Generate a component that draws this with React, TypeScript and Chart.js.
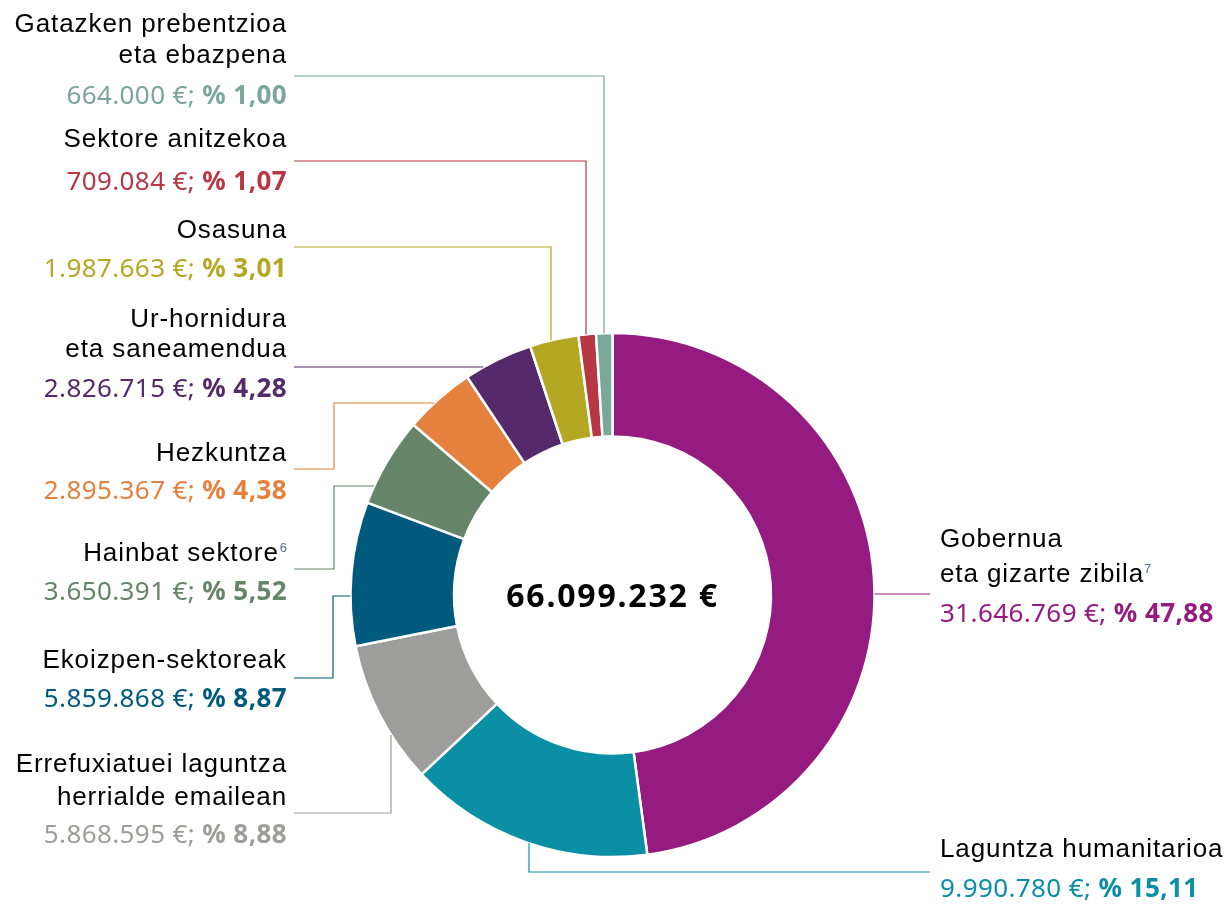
import React, { useEffect, useRef } from "react";
import { Chart, registerables } from "chart.js";

Chart.register(...registerables);

// ---- data ----
const CATEGORIES = [
  "Gobernua eta gizarte zibila",
  "Laguntza humanitarioa",
  "Errefuxiatuei laguntza herrialde emailean",
  "Ekoizpen-sektoreak",
  "Hainbat sektore",
  "Hezkuntza",
  "Ur-hornidura eta saneamendua",
  "Osasuna",
  "Sektore anitzekoa",
  "Gatazken prebentzioa eta ebazpena",
];
const NAME_LINES = [
  ["Gobernua", "eta gizarte zibila"],
  ["Laguntza humanitarioa"],
  ["Errefuxiatuei laguntza", "herrialde emailean"],
  ["Ekoizpen-sektoreak"],
  ["Hainbat sektore"],
  ["Hezkuntza"],
  ["Ur-hornidura", "eta saneamendua"],
  ["Osasuna"],
  ["Sektore anitzekoa"],
  ["Gatazken prebentzioa", "eta ebazpena"],
];
const FOOTNOTES = ["7", "", "", "", "6", "", "", "", "", ""];
const AMOUNTS = [31646769, 9990780, 5868595, 5859868, 3650391, 2895367, 2826715, 1987663, 709084, 664000];
const COLORS = [
  "#951b80",
  "#0b8fa5",
  "#9d9d9c",
  "#005a7d",
  "#668468",
  "#e5803e",
  "#552a6b",
  "#b4a822",
  "#b73744",
  "#7ba69a",
];

// ---- label layout (annotation positions) ----
type Lead = { y: number; type: "h" | "v" | "hv"; ex?: number; ty?: number };
type LabelLayout = { side: "left" | "right"; lines: number[]; value: number; lead: Lead };
const LEFT_TEXT_X = 287;
const RIGHT_TEXT_X = 940;
const LEFT_LINE_X = 294;
const RIGHT_LINE_X = 930;
const LABEL_LAYOUT: LabelLayout[] = [
  { side: "right", lines: [547, 582], value: 622, lead: { y: 594, type: "h" } },
  { side: "right", lines: [857], value: 897, lead: { y: 872, type: "v", ex: 529 } },
  { side: "left", lines: [772, 805], value: 843, lead: { y: 813, type: "v", ex: 391 } },
  { side: "left", lines: [668], value: 707, lead: { y: 678, type: "hv", ex: 333, ty: 596 } },
  { side: "left", lines: [561], value: 600, lead: { y: 569, type: "hv", ex: 334, ty: 486 } },
  { side: "left", lines: [461], value: 499, lead: { y: 469, type: "hv", ex: 334, ty: 403 } },
  { side: "left", lines: [327, 357], value: 397, lead: { y: 367, type: "h" } },
  { side: "left", lines: [238], value: 277, lead: { y: 247, type: "v", ex: 551 } },
  { side: "left", lines: [147], value: 190, lead: { y: 161, type: "v", ex: 586 } },
  { side: "left", lines: [32, 63], value: 104, lead: { y: 76, type: "v", ex: 604 } },
];

const NAME_FONT = '26px "Liberation Sans", Arial, sans-serif';
const VALUE_FONT = '26px "Noto Sans", Lato, sans-serif';
const VALUE_BOLD = 'bold 26px "Noto Sans", Lato, sans-serif';
const SUP_FONT = '13px "Liberation Sans", Arial, sans-serif';
const CENTER_FONT = 'bold 32px "Noto Sans", Lato, sans-serif';

function fmtThousands(n: number): string {
  return String(Math.round(n)).replace(/\B(?=(\d{3})+(?!\d))/g, ".");
}

const TOTAL = AMOUNTS.reduce((a, b) => a + b, 0);

const labelPlugin = {
  id: "sideLabels",
  afterDraw(chart: any) {
    const ctx: CanvasRenderingContext2D = chart.ctx;
    const meta = chart.getDatasetMeta(0);
    const first = meta.data[0] as any;
    const cx = first.x;
    const cy = first.y;
    const R = first.outerRadius;
    const xOnCircle = (y: number, side: "left" | "right") => {
      const d = Math.sqrt(Math.max(R * R - (y - cy) * (y - cy), 0));
      return side === "left" ? cx - d : cx + d;
    };
    const yOnCircle = (x: number, upper: boolean) => {
      const d = Math.sqrt(Math.max(R * R - (x - cx) * (x - cx), 0));
      return upper ? cy - d : cy + d;
    };

    ctx.save();
    // leader lines
    LABEL_LAYOUT.forEach((lay, i) => {
      const col = COLORS[i];
      const { lead, side } = lay;
      const x0 = side === "left" ? LEFT_LINE_X : RIGHT_LINE_X;
      ctx.beginPath();
      ctx.strokeStyle = col;
      ctx.lineWidth = 1.2;
      if (lead.type === "h") {
        ctx.moveTo(x0, lead.y);
        ctx.lineTo(xOnCircle(lead.y, side), lead.y);
      } else if (lead.type === "v") {
        const ex = lead.ex as number;
        ctx.moveTo(x0, lead.y);
        ctx.lineTo(ex, lead.y);
        ctx.lineTo(ex, yOnCircle(ex, lead.y < cy));
      } else {
        const ex = lead.ex as number;
        const ty = lead.ty as number;
        ctx.moveTo(x0, lead.y);
        ctx.lineTo(ex, lead.y);
        ctx.lineTo(ex, ty);
        ctx.lineTo(xOnCircle(ty, side), ty);
      }
      ctx.stroke();
    });

    // labels
    ctx.textBaseline = "alphabetic";
    LABEL_LAYOUT.forEach((lay, i) => {
      const col = COLORS[i];
      const lines = NAME_LINES[i];
      const fn = FOOTNOTES[i];
      const left = lay.side === "left";
      const tx = left ? LEFT_TEXT_X : RIGHT_TEXT_X;
      lines.forEach((line, li) => {
        const isLast = li === lines.length - 1;
        ctx.font = SUP_FONT;
        (ctx as any).letterSpacing = "0px";
        const supW = isLast && fn ? ctx.measureText(fn).width + 1 : 0;
        ctx.font = NAME_FONT;
        (ctx as any).letterSpacing = "0.9px";
        ctx.fillStyle = "#000000";
        const nameW = ctx.measureText(line).width;
        if (left) {
          ctx.textAlign = "right";
          ctx.fillText(line, tx - supW, lay.lines[li]);
        } else {
          ctx.textAlign = "left";
          ctx.fillText(line, tx, lay.lines[li]);
        }
        if (isLast && fn) {
          ctx.font = SUP_FONT;
          (ctx as any).letterSpacing = "0px";
          ctx.fillStyle = "#4f73a0";
          ctx.textAlign = "left";
          const sx = left ? tx - supW + 1 : tx + nameW;
          ctx.fillText(fn, sx, lay.lines[li] - 9);
        }
      });
      (ctx as any).letterSpacing = "0.4px";
      const amt = fmtThousands(AMOUNTS[i]) + " €; ";
      const pct = "% " + ((AMOUNTS[i] / TOTAL) * 100).toFixed(2).replace(".", ",");
      ctx.fillStyle = col;
      if (left) {
        ctx.textAlign = "right";
        ctx.font = VALUE_BOLD;
        const bw = ctx.measureText(pct).width;
        ctx.fillText(pct, tx, lay.value);
        ctx.font = VALUE_FONT;
        ctx.fillText(amt, tx - bw, lay.value);
      } else {
        ctx.textAlign = "left";
        ctx.font = VALUE_FONT;
        const aw = ctx.measureText(amt).width;
        ctx.fillText(amt, tx, lay.value);
        ctx.font = VALUE_BOLD;
        ctx.fillText(pct, tx + aw, lay.value);
      }
    });

    // center total
    ctx.font = CENTER_FONT;
    (ctx as any).letterSpacing = "1.8px";
    ctx.fillStyle = "#000000";
    ctx.textAlign = "center";
    ctx.fillText(fmtThousands(TOTAL) + " €", cx, cy + 12);
    (ctx as any).letterSpacing = "0px";
    ctx.restore();
  },
};

export default function App() {
  const ref = useRef<HTMLCanvasElement>(null);
  useEffect(() => {
    if (!ref.current) return;
    const chart = new Chart(ref.current, {
      type: "doughnut",
      data: {
        labels: CATEGORIES,
        datasets: [
          {
            data: AMOUNTS,
            backgroundColor: COLORS,
            borderColor: "#ffffff",
            borderWidth: 2.5,
          },
        ],
      },
      options: {
        responsive: false,
        animation: false,
        radius: 262,
        cutout: "60.5%",
        layout: { padding: { left: 350, right: 350, top: 333, bottom: 48 } },
        plugins: {
          legend: { display: false },
          tooltip: { enabled: false },
        },
      } as any,
      plugins: [labelPlugin],
    });
    return () => chart.destroy();
  }, []);
  return (
    <div style={{ position: "absolute", left: 0, top: 0, width: 1225, height: 905, background: "#ffffff" }}>
      <canvas ref={ref} width={1225} height={905} style={{ display: "block" }} />
    </div>
  );
}
